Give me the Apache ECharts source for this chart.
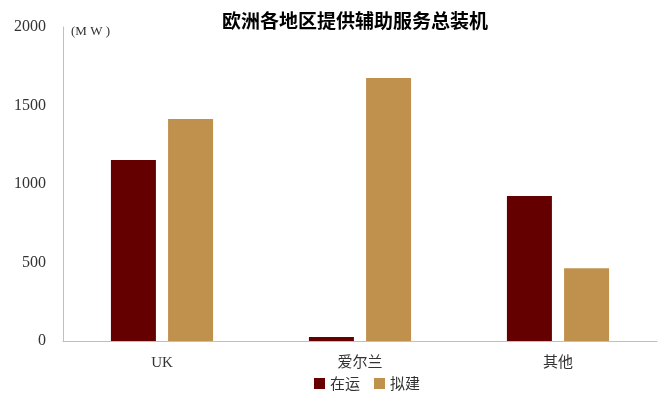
<!DOCTYPE html>
<html><head><meta charset="utf-8">
<script src="https://cdn.jsdelivr.net/npm/echarts@6/dist/echarts.min.js"></script>
<style>html,body{margin:0;padding:0;background:#fff}#c{width:668px;height:400px}</style>
</head><body><div id="c"></div>
<script>
const categories = ['UK', '爱尔兰', '其他'];
const operating = [1153, 25, 924];
const planned = [1414, 1675, 463];
const seriesNames = ['在运', '拟建'];
const yTicks = [0, 500, 1000, 1500, 2000];

const font = "'Liberation Serif','Noto Sans CJK SC',serif";
const chart = echarts.init(document.getElementById('c'));
chart.setOption({
  animation: false,
  title: {
    text: '欧洲各地区提供辅助服务总装机',
    left: 350, top: 6, textAlign: 'center',
    textStyle: { fontFamily: "'Noto Sans CJK SC',sans-serif", fontSize: 19, fontWeight: 'bold', color: '#000' }
  },
  graphic: [{ type: 'text', left: 71, top: 25, style: { text: '(M W )', font: "13px 'Liberation Serif',serif", fill: '#333' } }],
  legend: {
    data: seriesNames, bottom: 4, left: 309, icon: 'rect', itemWidth: 11, itemHeight: 11, itemGap: 14,
    textStyle: { fontFamily: "'Noto Sans CJK SC',sans-serif", fontSize: 15, color: '#333' }
  },
  grid: { left: 63, right: 11, top: 27, bottom: 59, containLabel: false },
  xAxis: {
    type: 'category', data: categories,
    axisLine: { lineStyle: { color: '#bfbfbf', width: 1 } },
    axisTick: { show: false },
    axisLabel: { margin: 15, fontFamily: font, fontSize: 15, color: '#333' }
  },
  yAxis: {
    type: 'value', min: 0, max: 2000, interval: 500,
    axisLine: { show: true, lineStyle: { color: '#bfbfbf' } },
    axisTick: { show: false },
    splitLine: { show: false },
    axisLabel: { margin: 17, fontFamily: font, fontSize: 16, color: '#333',
      formatter: v => yTicks.includes(v) ? String(v) : '' }
  },
  series: [
    { name: seriesNames[0], type: 'bar', data: operating, barWidth: 45, barGap: '27%', itemStyle: { color: '#640000' } },
    { name: seriesNames[1], type: 'bar', data: planned, barWidth: 45, itemStyle: { color: '#C0904D' } }
  ]
});
</script></body></html>
